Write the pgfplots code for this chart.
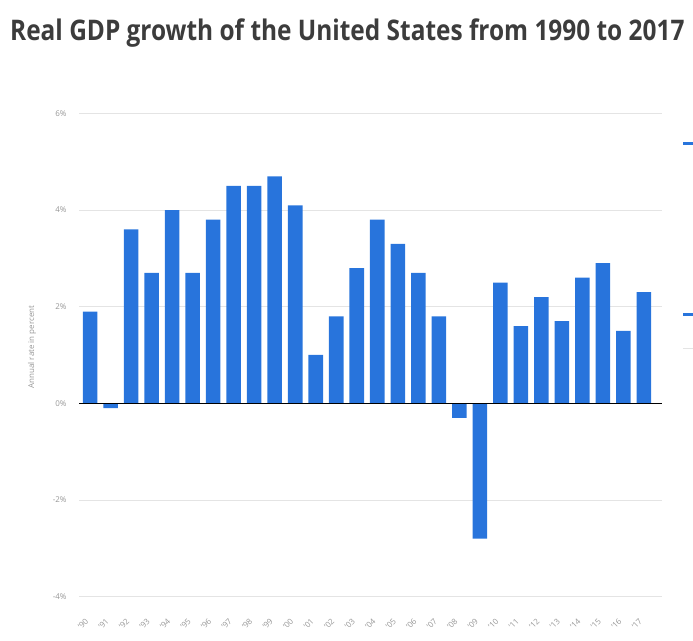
\documentclass[border=0pt]{standalone}
\usepackage{pgfplots}
\pgfplotsset{compat=1.18}
\usepackage{fontspec}
\setmainfont{Open Sans}
\newfontfamily\titlefont{Open Sans}[FakeStretch=0.86]

\definecolor{barblue}{RGB}{40,116,220}
\definecolor{titlegray}{RGB}{60,60,60}
\definecolor{tickgray}{RGB}{150,150,150}
\definecolor{gridgray}{RGB}{228,228,228}

\begin{document}
\begin{tikzpicture}[x=1bp,y=1bp]
\useasboundingbox (0,0) rectangle (693,641);
\node[anchor=base west, inner sep=0, text=titlegray,
      font=\titlefont\bfseries\fontsize{28.5}{32}\selectfont] at (10,600)
  {Real GDP growth of the United States from 1990 to 2017};
\node[rotate=90, text=tickgray, font=\fontsize{8}{10}\selectfont] at (32,294)
  {Annual rate in percent};
% cropped sidebar remnants at the right edge
\fill[barblue] (683,496) rectangle (693,499);
\fill[barblue] (683,325) rectangle (693,328);
\draw[gridgray] (683,293) -- (693,293);

\begin{axis}[
    at={(79bp,44.5bp)}, anchor=south west,
    scale only axis,
    width=583bp, height=483bp,
    xmin=1989.46, xmax=2017.88,
    ymin=-4, ymax=6,
    ytick={-4,-2,0,2,4,6},
    yticklabel={\pgfmathprintnumber{\tick}\%},
    xtick=data,
    xticklabels={'90,'91,'92,'93,'94,'95,'96,'97,'98,'99,'00,'01,'02,'03,'04,'05,'06,'07,'08,'09,'10,'11,'12,'13,'14,'15,'16,'17},
    ymajorgrids=true,
    grid style={gridgray, line width=0.6bp},
    axis line style={draw=none},
    major tick length=0pt,
    /pgf/number format/assume math mode=true,
    yticklabel style={text=tickgray, font=\fontsize{8}{10}\selectfont, xshift=-9bp},
    xticklabel style={text=tickgray, font=\fontsize{8}{10}\selectfont, inner sep=0pt,
                      xshift=-7bp, yshift=-27bp, rotate=45, anchor=center},
    ybar, bar width=0.71,
    clip=false,
]
\addplot[fill=barblue, draw=none] coordinates {
    (1990, 1.9) (1991, -0.1) (1992, 3.6) (1993, 2.7) (1994, 4.0)
    (1995, 2.7) (1996, 3.8) (1997, 4.5) (1998, 4.5) (1999, 4.7)
    (2000, 4.1) (2001, 1.0) (2002, 1.8) (2003, 2.8) (2004, 3.8)
    (2005, 3.3) (2006, 2.7) (2007, 1.8) (2008, -0.3) (2009, -2.8)
    (2010, 2.5) (2011, 1.6) (2012, 2.2) (2013, 1.7) (2014, 2.6)
    (2015, 2.9) (2016, 1.5) (2017, 2.3)
};
\draw[black, line width=1.3bp] (axis cs:1989.46,0) -- (axis cs:2017.88,0);
\end{axis}
\end{tikzpicture}
\end{document}
